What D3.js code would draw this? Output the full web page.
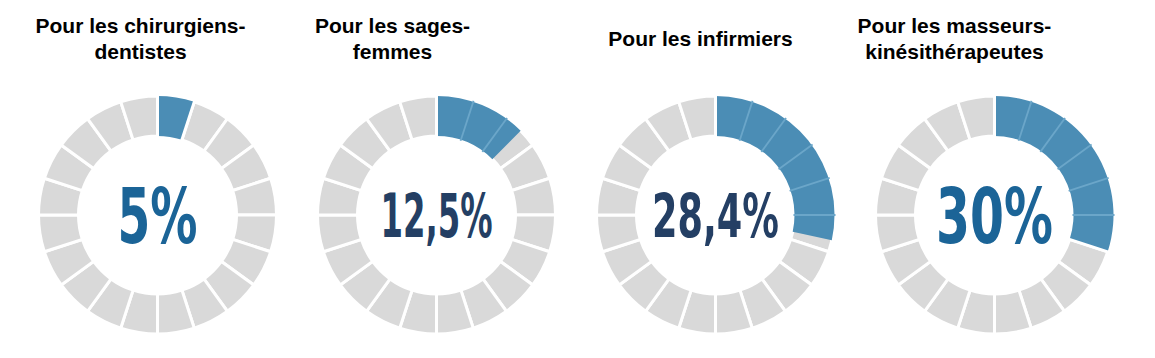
<!DOCTYPE html>
<html>
<head>
<meta charset="utf-8">
<script src="https://cdn.jsdelivr.net/npm/d3@7"></script>
<style>
  html, body { margin: 0; padding: 0; background: #ffffff; }
  svg { display: block; }
</style>
</head>
<body>
<div id="chart"></div>
<script>
// ---- data ----
const titles = [
  ["Pour les chirurgiens-", "dentistes"],
  ["Pour les sages-", "femmes"],
  ["Pour les infirmiers"],
  ["Pour les masseurs-", "kinésithérapeutes"]
];
const values = [5, 12.5, 28.4, 30];
const valueLabels = ["5%", "12,5%", "28,4%", "30%"];
const segmentCount = 20;

// ---- style / layout ----
const W = 1155, H = 358;
const titleDx = [-17, -44, -15, -40];
const labelColors = ["#1b6497", "#243f64", "#243f64", "#1b6497"];
const labelDigitHeights = [56, 44, 44, 56];
const labelWidths = [80, 112, 127, 117];
const outerR = 119, innerR = 79, cy = 215;
const gray = "#d9d9d9", blue = "#4b8db5", lightBlue = "#6ba6c9";

const svg = d3.select("#chart").append("svg").attr("width", W).attr("height", H);

const x = d3.scaleBand().domain(d3.range(values.length)).range([18, 1134]);
const angle = d3.scaleLinear().domain([0, 100]).range([0, 2 * Math.PI]);
const segAngle = d3.scaleLinear().domain([0, segmentCount]).range([0, 2 * Math.PI]);
const arc = d3.arc().innerRadius(innerR).outerRadius(outerR);

values.forEach((v, i) => {
  const cx = x(i) + x.bandwidth() / 2;

  // title
  const lines = titles[i];
  const lh = 26.5;
  const baseY = lines.length === 1 ? 45.8 : 32.7;
  const t = svg.append("text")
    .attr("text-anchor", "middle")
    .attr("font-family", "'Liberation Sans', Arial, sans-serif")
    .attr("font-weight", "bold")
    .attr("font-size", 21)
    .attr("fill", "#000");
  lines.forEach((ln, j) => {
    t.append("tspan").attr("x", cx + titleDx[i]).attr("y", baseY + j * lh).text(ln);
  });

  const g = svg.append("g").attr("transform", `translate(${cx},${cy})`);

  // gray segments
  g.selectAll("path.seg").data(d3.range(segmentCount)).join("path")
    .attr("class", "seg")
    .attr("d", k => arc({ startAngle: segAngle(k), endAngle: segAngle(k + 1) }))
    .attr("fill", gray)
    .attr("stroke", "#fff")
    .attr("stroke-width", 3);

  // blue value arc
  const end = angle(v);
  g.append("path")
    .attr("d", arc({ startAngle: 0, endAngle: end }))
    .attr("fill", blue);

  // separators within the blue arc
  const bounds = d3.range(segmentCount).filter(k => segAngle(k) <= end + 1e-9);
  bounds.forEach(k => {
    const a = segAngle(k);
    const isEdge = k === 0 || Math.abs(a - end) < 1e-6;
    g.append("line")
      .attr("x1", Math.sin(a) * (innerR - 1)).attr("y1", -Math.cos(a) * (innerR - 1))
      .attr("x2", Math.sin(a) * (outerR + 1)).attr("y2", -Math.cos(a) * (outerR + 1))
      .attr("stroke", isEdge ? "#fff" : lightBlue)
      .attr("stroke-width", isEdge ? 3 : 1.8);
  });

  // value label
  const dh = labelDigitHeights[i];
  g.append("text")
    .attr("text-anchor", "middle")
    .attr("x", 0)
    .attr("y", dh / 2)
    .attr("font-family", "'DejaVu Sans Condensed', 'Liberation Sans Narrow', 'Liberation Sans', sans-serif")
    .attr("font-weight", "bold")
    .attr("font-size", dh / 0.729)
    .attr("textLength", labelWidths[i])
    .attr("lengthAdjust", "spacingAndGlyphs")
    .attr("fill", labelColors[i])
    .text(valueLabels[i]);
});
</script>
</body>
</html>
